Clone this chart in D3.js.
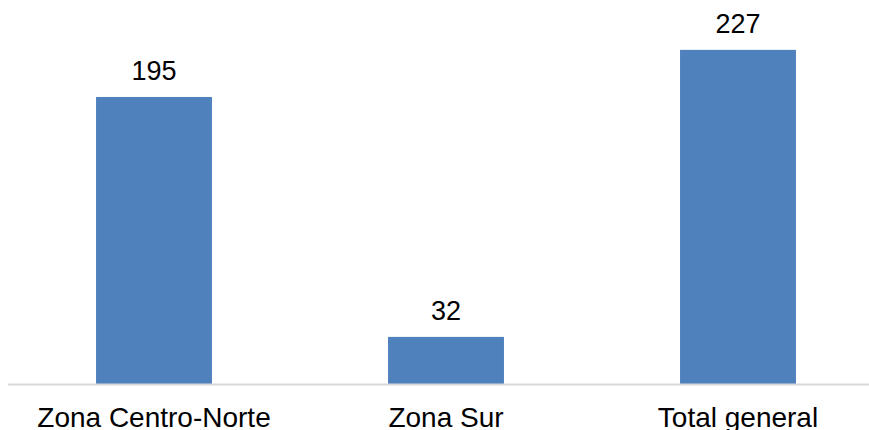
<!DOCTYPE html>
<html>
<head>
<meta charset="utf-8">
<script src="https://cdn.jsdelivr.net/npm/d3@7"></script>
<style>
  body { margin: 0; background: #fff; }
  text { font-family: "Liberation Sans", Arial, sans-serif; fill: #000; }
</style>
</head>
<body>
<script>
var categories = ["Zona Centro-Norte", "Zona Sur", "Total general"];
var values = [195, 32, 227];

var width = 869, height = 430;

var svg = d3.select("body").append("svg")
    .attr("width", width)
    .attr("height", height);

var x = d3.scaleBand()
    .domain(categories)
    .range([8, 884])
    .paddingInner(0.603)
    .paddingOuter(0.3015);

var y = d3.scaleLinear()
    .domain([0, 250])
    .range([384, 16]);

// bars
svg.selectAll("rect.bar")
    .data(values)
  .enter().append("rect")
    .attr("class", "bar")
    .attr("x", function(d, i) { return x(categories[i]); })
    .attr("y", function(d) { return y(d); })
    .attr("width", x.bandwidth())
    .attr("height", function(d) { return y(0) - y(d); })
    .attr("fill", "#4f81bd");

// baseline
svg.append("line")
    .attr("x1", 8)
    .attr("x2", width)
    .attr("y1", y(0) + 0.5)
    .attr("y2", y(0) + 0.5)
    .attr("stroke", "#d9d9d9")
    .attr("stroke-width", 2);

// value labels
svg.selectAll("text.val")
    .data(values)
  .enter().append("text")
    .attr("class", "val")
    .attr("x", function(d, i) { return x(categories[i]) + x.bandwidth() / 2; })
    .attr("y", function(d) { return y(d) - 17; })
    .attr("text-anchor", "middle")
    .attr("font-size", "27px")
    .text(function(d) { return d; });

// category labels
svg.selectAll("text.cat")
    .data(categories)
  .enter().append("text")
    .attr("class", "cat")
    .attr("x", function(d) { return x(d) + x.bandwidth() / 2; })
    .attr("y", 427)
    .attr("text-anchor", "middle")
    .attr("font-size", "28px")
    .text(function(d) { return d; });
</script>
</body>
</html>
